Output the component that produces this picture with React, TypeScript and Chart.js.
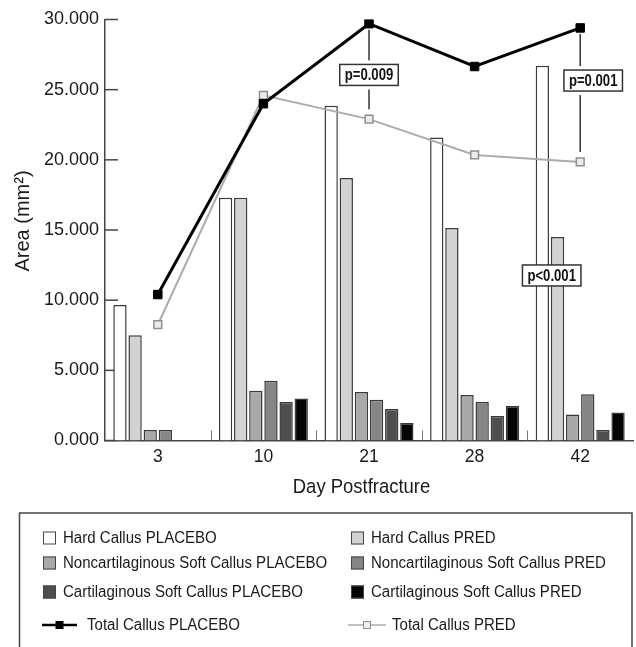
import { useEffect, useRef } from 'react';
import { Chart, registerables } from 'chart.js';

Chart.register(...registerables);

const FONT = "'Liberation Sans', Arial, Helvetica, sans-serif";

const days = ['3', '10', '21', '28', '42'];
const hardPlacebo = [9650, 17300, 23850, 21600, 26700];
const hardPred = [7500, 17300, 18700, 15150, 14500];
const noncartPlacebo = [750, 3550, 3450, 3250, 1850];
const noncartPred = [750, 4250, 2900, 2750, 3300];
const cartPlacebo = [null, 2750, 2250, 1750, 750];
const cartPred = [null, 3000, 1250, 2450, 2000];
const totalPlacebo = [10400, 24000, 29700, 26650, 29400];
const totalPred = [8250, 24600, 22900, 20350, 19850];
const yTicks = [0, 5000, 10000, 15000, 20000, 25000, 30000];

const xTitle = 'Day Postfracture';
const yTitle = 'Area (mm²)';

const pDays = ['21', '42', '42'];
const pTexts = ['p=0.009', 'p=0.001', 'p<0.001'];
const pValues = [26050, 25650, 11760];
const pConnector = [true, true, false];
const pShift = [0, 13, -28.5];

const barStyle = {
  borderColor: '#3a3a3a',
  borderWidth: 1.5,
  categoryPercentage: 0.86,
  barPercentage: 0.88,
  order: 2,
};

const decorPlugin = {
  id: 'decor',
  beforeDatasetsDraw(chart: any) {
    const { ctx, chartArea, scales } = chart;
    const x = scales.x;
    const y = scales.y;
    ctx.save();
    ctx.strokeStyle = '#444';
    ctx.lineWidth = 1.5;
    yTicks.forEach((v) => {
      const py = y.getPixelForValue(v);
      ctx.beginPath();
      ctx.moveTo(chartArea.left, py);
      ctx.lineTo(chartArea.left + 13, py);
      ctx.stroke();
    });
    ctx.strokeStyle = '#777';
    ctx.lineWidth = 1;
    for (let i = 0; i < days.length - 1; i++) {
      const px = Math.round((x.getPixelForValue(i) + x.getPixelForValue(i + 1)) / 2) + 0.5;
      ctx.beginPath();
      ctx.moveTo(px, chartArea.bottom);
      ctx.lineTo(px, chartArea.bottom - 10);
      ctx.stroke();
    }
    ctx.restore();
  },
  afterDatasetsDraw(chart: any) {
    const { ctx, scales } = chart;
    const x = scales.x;
    const y = scales.y;
    ctx.save();
    for (let k = 0; k < pTexts.length; k++) {
      const idx = days.indexOf(pDays[k]);
      const px = x.getPixelForValue(idx);
      if (pConnector[k]) {
        const y1 = y.getPixelForValue(totalPlacebo[idx]) + 6;
        const y2 = y.getPixelForValue(totalPred[idx]) - 10;
        ctx.strokeStyle = '#333';
        ctx.lineWidth = 1.5;
        ctx.beginPath();
        ctx.moveTo(px, y1);
        ctx.lineTo(px, y2);
        ctx.stroke();
      }
      ctx.font = `bold 16px ${FONT}`;
      const sx = 0.82;
      const tw = ctx.measureText(pTexts[k]).width * sx;
      const bw = tw + 10;
      const bh = 21;
      const cx = px + pShift[k];
      const cy = y.getPixelForValue(pValues[k]);
      if (pConnector[k]) {
        ctx.fillStyle = '#fff';
        ctx.fillRect(cx - bw / 2 - 3, cy - bh / 2 - 4, bw + 6, bh + 8);
      }
      ctx.fillStyle = '#fff';
      ctx.fillRect(cx - bw / 2, cy - bh / 2, bw, bh);
      ctx.strokeStyle = '#333';
      ctx.lineWidth = 1.5;
      ctx.strokeRect(cx - bw / 2, cy - bh / 2, bw, bh);
      ctx.save();
      ctx.translate(cx, cy);
      ctx.scale(sx, 1);
      ctx.fillStyle = '#111';
      ctx.textAlign = 'center';
      ctx.textBaseline = 'middle';
      ctx.fillText(pTexts[k], 0, 1);
      ctx.restore();
    }
    ctx.restore();
  },
  afterDraw(chart: any) {
    const { ctx, chartArea } = chart;
    const ds = chart.data.datasets;
    ctx.save();

    // axis titles
    ctx.fillStyle = '#1a1a1a';
    ctx.textAlign = 'center';
    ctx.textBaseline = 'middle';
    ctx.save();
    ctx.translate(361.5, 487);
    ctx.scale(0.9, 1);
    ctx.font = `20.5px ${FONT}`;
    ctx.fillText(xTitle, 0, 0);
    ctx.restore();
    ctx.save();
    ctx.translate(23, (chartArea.top + chartArea.bottom) / 2 - 9);
    ctx.rotate(-Math.PI / 2);
    ctx.font = `20px ${FONT}`;
    ctx.fillText(yTitle, 0, 0);
    ctx.restore();

    // legend
    ctx.strokeStyle = '#444';
    ctx.lineWidth = 1.5;
    ctx.strokeRect(19.5, 513, 612.5, 220);
    const rowsY = [538, 563, 592, 625];
    const colSw = [43, 351];
    const colTx = [63, 371];
    const lineX = [[42, 77, 87], [348, 386, 392]];
    ctx.font = `16px ${FONT}`;
    ctx.textBaseline = 'middle';
    ctx.textAlign = 'left';
    const drawText = (t: string, tx: number, ty: number) => {
      ctx.save();
      ctx.translate(tx, ty);
      ctx.scale(0.94, 1);
      ctx.fillStyle = '#1a1a1a';
      ctx.fillText(t, 0, 1);
      ctx.restore();
    };
    for (let r = 0; r < 3; r++) {
      for (let c = 0; c < 2; c++) {
        const d = ds[r * 2 + c];
        const yy = rowsY[r];
        ctx.fillStyle = d.backgroundColor;
        ctx.fillRect(colSw[c], yy - 6.5, 13, 13);
        ctx.strokeStyle = '#444';
        ctx.lineWidth = 1;
        ctx.strokeRect(colSw[c] + 0.5, yy - 6, 12, 12);
        drawText(d.label, colTx[c], yy);
      }
    }
    for (let c = 0; c < 2; c++) {
      const d = ds[6 + c];
      const yy = rowsY[3];
      const [x1, x2, tx] = lineX[c];
      ctx.strokeStyle = d.borderColor;
      ctx.lineWidth = c === 0 ? 2.5 : 1.5;
      ctx.beginPath();
      ctx.moveTo(x1, yy);
      ctx.lineTo(x2, yy);
      ctx.stroke();
      const mx = (x1 + x2) / 2;
      const s = 7;
      ctx.fillStyle = d.pointBackgroundColor;
      ctx.fillRect(mx - s / 2, yy - s / 2, s, s);
      ctx.strokeStyle = d.pointBorderColor;
      ctx.lineWidth = 1;
      ctx.strokeRect(mx - s / 2, yy - s / 2, s, s);
      drawText(d.label, tx, yy);
    }
    ctx.restore();
  },
};

export default function App() {
  const ref = useRef<HTMLCanvasElement>(null);

  useEffect(() => {
    if (!ref.current) return;
    const chart = new Chart(ref.current, {
      type: 'bar',
      data: {
        labels: days,
        datasets: [
          { label: 'Hard Callus PLACEBO', data: hardPlacebo, backgroundColor: '#ffffff', ...barStyle },
          { label: 'Hard Callus PRED', data: hardPred, backgroundColor: '#d2d2d2', ...barStyle },
          { label: 'Noncartilaginous Soft Callus PLACEBO', data: noncartPlacebo, backgroundColor: '#a9a9a9', ...barStyle },
          { label: 'Noncartilaginous Soft Callus PRED', data: noncartPred, backgroundColor: '#868686', ...barStyle },
          { label: 'Cartilaginous Soft Callus PLACEBO', data: cartPlacebo, backgroundColor: '#4f4f4f', ...barStyle },
          { label: 'Cartilaginous Soft Callus PRED', data: cartPred, backgroundColor: '#050505', ...barStyle },
          {
            type: 'line',
            label: 'Total Callus PLACEBO',
            data: totalPlacebo,
            borderColor: '#000000',
            borderWidth: 3,
            pointStyle: 'rect',
            pointRadius: 6,
            pointBackgroundColor: '#000000',
            pointBorderColor: '#000000',
            pointBorderWidth: 1,
            tension: 0,
            order: 0,
          },
          {
            type: 'line',
            label: 'Total Callus PRED',
            data: totalPred,
            borderColor: '#ababab',
            borderWidth: 2,
            pointStyle: 'rect',
            pointRadius: 5.5,
            pointBackgroundColor: '#ececec',
            pointBorderColor: '#8f8f8f',
            pointBorderWidth: 1.5,
            tension: 0,
            order: 1,
          },
        ] as any,
      },
      options: {
        responsive: false,
        animation: false,
        events: [],
        layout: { padding: { left: 0, right: 0, top: 19.5, bottom: 144.5 } },
        plugins: {
          legend: { display: false },
          tooltip: { enabled: false },
        },
        scales: {
          x: {
            grid: { display: false, drawTicks: false },
            border: { display: true, color: '#444', width: 1.5 },
            ticks: { color: '#1a1a1a', font: { family: FONT, size: 17.5 }, padding: 6, maxRotation: 0 },
            title: { display: false },
            afterFit: (s: any) => {
              s.height = 62;
            },
          },
          y: {
            min: 0,
            max: 30000,
            afterBuildTicks: (s: any) => {
              s.ticks = yTicks.map((v) => ({ value: v }));
            },
            grid: { display: false, drawTicks: false },
            border: { display: true, color: '#444', width: 1.5 },
            ticks: {
              color: '#1a1a1a',
              font: { family: FONT, size: 18 },
              padding: 6,
              callback: (v: any) => (Number(v) / 1000).toFixed(3),
            },
            title: { display: false },
            afterFit: (s: any) => {
              s.width = 105;
            },
          },
        },
      } as any,
      plugins: [decorPlugin],
    });
    return () => chart.destroy();
  }, []);

  return (
    <div
      style={{
        position: 'fixed',
        left: 0,
        top: 0,
        width: 636,
        height: 647,
        overflow: 'hidden',
        background: '#fff',
      }}
    >
      <canvas ref={ref} width={640} height={647} style={{ display: 'block', width: 640, height: 647 }} />
    </div>
  );
}
